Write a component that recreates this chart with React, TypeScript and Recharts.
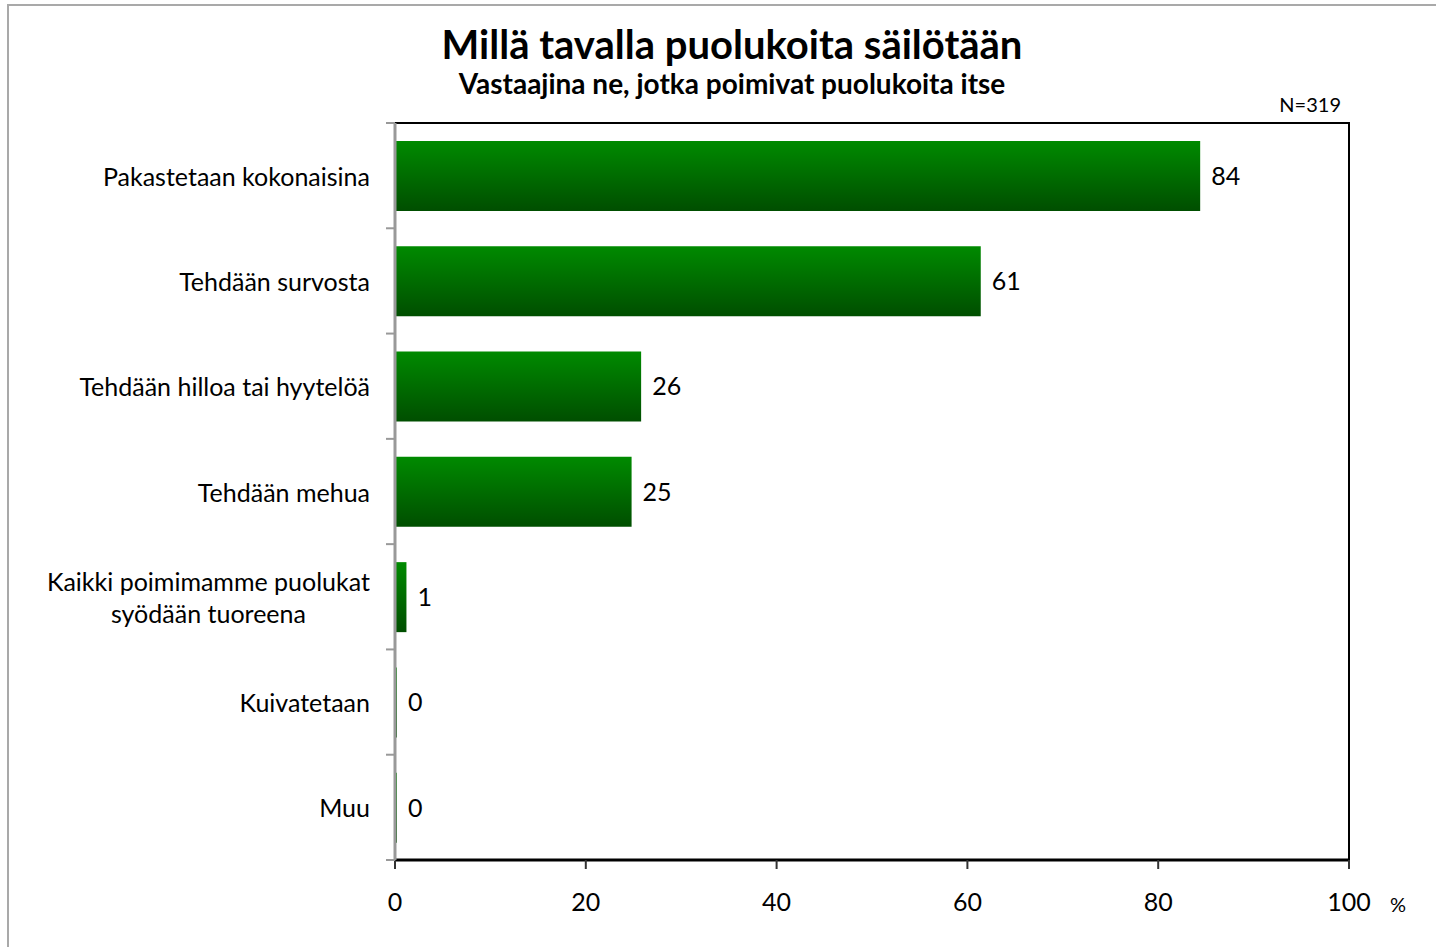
import { BarChart, Bar, XAxis, YAxis, LabelList, ReferenceArea } from "recharts";

const categories = [
  "Pakastetaan kokonaisina",
  "Tehdään survosta",
  "Tehdään hilloa tai hyytelöä",
  "Tehdään mehua",
  "Kaikki poimimamme puolukat\nsyödään tuoreena",
  "Kuivatetaan",
  "Muu",
];
const shares = [84.4, 61.4, 25.8, 24.8, 1.2, 0.2, 0.2];
const xTicks = [0, 20, 40, 60, 80, 100];

const data = categories.map((name, i) => ({ name, value: shares[i] }));

const FONT = "Lato, 'Open Sans', sans-serif";

function CategoryTick(props: any) {
  const { x, y, payload } = props;
  const half = payload?.offset ?? 52.6;
  const lines: string[] = String(payload.value).split("\n");
  const lh = 32;
  return (
    <g>
      <line x1={x + 15} x2={x + 24} y1={y - half} y2={y - half} stroke="#999" strokeWidth={2} />
      {payload.index === categories.length - 1 && (
        <line x1={x + 15} x2={x + 24} y1={y + half} y2={y + half} stroke="#999" strokeWidth={2} />
      )}
      <foreignObject x={x - 380} y={y - (lines.length * lh) / 2} width={379} height={lines.length * lh}>
        <div
          style={{
            display: "flex",
            justifyContent: "flex-end",
            fontFamily: FONT,
            fontSize: 25,
            lineHeight: `${lh}px`,
            color: "#000",
          }}
        >
          <div style={{ textAlign: "center", whiteSpace: "pre" }}>{payload.value}</div>
        </div>
      </foreignObject>
    </g>
  );
}

export default function App() {
  return (
    <div style={{ position: "absolute", left: 0, top: 0, width: 1436, height: 947, background: "#fff", overflow: "hidden" }}>
      <div
        style={{
          position: "absolute",
          left: 7,
          top: 4,
          width: 1500,
          height: 1000,
          borderTop: "2px solid #a9a9a9",
          borderLeft: "2px solid #a9a9a9",
        }}
      />
      <div
        style={{
          position: "absolute",
          left: 0,
          width: 1464,
          top: 21,
          textAlign: "center",
          fontFamily: FONT,
          fontWeight: 700,
          fontSize: 40,
          lineHeight: "46px",
        }}
      >
        Millä tavalla puolukoita säilötään
      </div>
      <div
        style={{
          position: "absolute",
          left: 0,
          width: 1464,
          top: 66,
          textAlign: "center",
          fontFamily: FONT,
          fontWeight: 700,
          fontSize: 28,
          lineHeight: "34px",
        }}
      >
        Vastaajina ne, jotka poimivat puolukoita itse
      </div>
      <div
        style={{
          position: "absolute",
          right: 1436 - 1341,
          top: 92,
          fontFamily: FONT,
          fontSize: 20,
          lineHeight: "24px",
        }}
      >
        N=319
      </div>
      <div
        style={{
          position: "absolute",
          left: 1390,
          top: 892,
          fontFamily: FONT,
          fontSize: 20,
          lineHeight: "24px",
        }}
      >
        %
      </div>
      <div style={{ position: "absolute", left: 0, top: 0 }}>
        <BarChart
          width={1436}
          height={947}
          data={data}
          layout="vertical"
          margin={{ top: 123, right: 87, bottom: 27, left: 0 }}
        >
          <ReferenceArea x1={0} x2={100} fill="none" stroke="#000" strokeWidth={2} ifOverflow="visible" />
          <defs>
            <linearGradient id="barGrad" x1="0" y1="0" x2="0" y2="1">
              <stop offset="0%" stopColor="#008a00" />
              <stop offset="100%" stopColor="#004e00" />
            </linearGradient>
          </defs>
          <XAxis
            type="number"
            domain={[0, 100]}
            ticks={xTicks}
            height={60}
            axisLine={{ stroke: "#000", strokeWidth: 3 }}
            tickLine={{ stroke: "#333", strokeWidth: 2 }}
            tickSize={9}
            tickMargin={24}
            tick={{ fill: "#000", fontSize: 25, fontFamily: FONT }}
          />
          <YAxis
            type="category"
            dataKey="name"
            width={395}
            axisLine={{ stroke: "#999", strokeWidth: 3 }}
            tickLine={false}
            tickSize={0}
            tickMargin={24}
            interval={0}
            tick={<CategoryTick />}
          />
          <Bar dataKey="value" fill="url(#barGrad)" barSize={70} isAnimationActive={false}>
            <LabelList
              dataKey="value"
              position="right"
              offset={11}
              formatter={(v: any) => Math.round(Number(v))}
              style={{ fill: "#000", fontSize: 25, fontFamily: FONT }}
            />
          </Bar>
        </BarChart>
      </div>
    </div>
  );
}
